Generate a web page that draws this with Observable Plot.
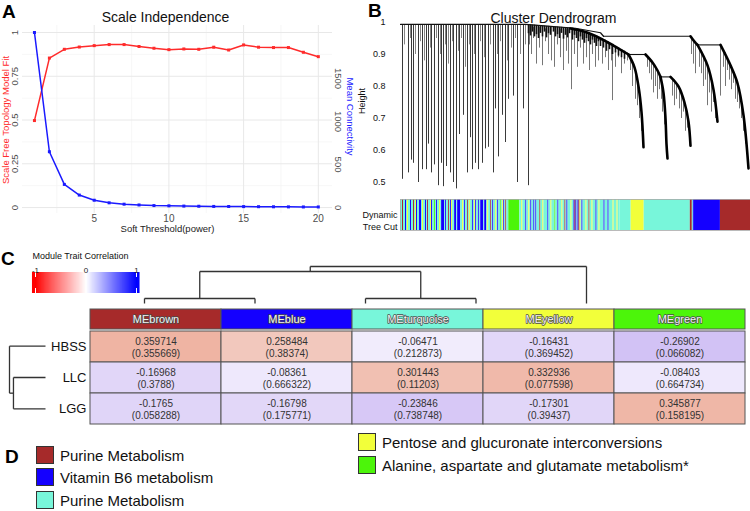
<!DOCTYPE html>
<html>
<head>
<meta charset="utf-8">
<script src="https://cdn.jsdelivr.net/npm/d3@7"></script>
<script src="https://cdn.jsdelivr.net/npm/@observablehq/plot@0.6"></script>
<style>
  body { margin: 0; background: #fff; }
  #fig { position: relative; width: 750px; height: 511px; overflow: hidden;
         font-family: "Liberation Sans", Arial, sans-serif; }
  #fig svg { position: absolute; overflow: visible; }
  .letter { position: absolute; font-weight: bold; font-size: 19px; line-height: 1; }
  .key { position: absolute; display: flex; align-items: center; font-size: 15px; color: #111; white-space: nowrap; }
  .key span.sw { display: inline-block; width: 18px; height: 18px; border: 1px solid #333; margin-right: 6px; box-sizing: border-box; }
</style>
</head>
<body>
<div id="fig"></div>
<script>
// ---------- Panel A: soft-threshold selection ----------
const powers   = [1,2,3,4,5,6,7,8,9,10,11,12,13,14,15,16,17,18,19,20];
const scaleFit = [0.497,0.854,0.904,0.917,0.925,0.931,0.931,0.920,0.910,0.902,0.906,0.904,0.916,0.900,0.929,0.916,0.914,0.914,0.887,0.862];
const meanConn = [2035,649,269,145,85,55,39,30,23,20,17,15,13,12,11,10,9,8,7,7];
const fitTicks  = [0,0.25,0.5,0.75,1];
const fitMinor  = [0.125,0.375,0.625,0.875];
const connTicks = [0,500,1000,1500];
const powerTicks = [5,10,15,20];
const powerMinor = [2.5,7.5,12.5,17.5];

// ---------- Panel B: cluster dendrogram ----------
const rootHeight = 0.993;
const heightTicks = [0.5,0.6,0.7,0.8,0.9,1];
// single branches hanging from the root (leaf position, lowest height)
const spikeX   = [2,8,11,13,18,22,26,28,31,34,38,41,43,46,50,53,56,59,63,67,70,72,75,78,82,85,88,93,95,98,102,105,108,113,117,123,128];
const spikeLow = [0.51,0.53,0.57,0.56,0.50,0.54,0.54,0.62,0.53,0.555,0.49,0.56,0.487,0.55,0.53,0.50,0.48,0.65,0.71,0.53,0.64,0.54,0.56,0.54,0.56,0.605,0.61,0.53,0.73,0.58,0.71,0.625,0.76,0.77,0.50,0.73,0.49];
// short side branches near the root: [position, top, bottom]
const twigs = [
  [4,0.993,0.93],[10,0.993,0.95],[15,0.993,0.90],[20,0.993,0.94],[24,0.993,0.88],[30,0.993,0.92],[36,0.993,0.95],
  [40,0.993,0.90],[45,0.993,0.93],[48,0.993,0.87],[52,0.993,0.94],[58,0.993,0.91],[61,0.993,0.95],[65,0.993,0.86],
  [69,0.993,0.93],[74,0.993,0.90],[80,0.993,0.94],[84,0.993,0.89],[90,0.993,0.93],[97,0.993,0.90],[100,0.993,0.94],
  [107,0.993,0.88],[111,0.993,0.92],[115,0.993,0.95],[120,0.993,0.90],[125,0.993,0.93]
];
// dense short branches under the root: [position, top, bottom]
const fringe = [
  [128,0.993,0.965],[130,0.993,0.958],[132,0.992,0.970],[134,0.992,0.955],[136,0.991,0.962],[138,0.990,0.950],
  [140,0.990,0.966],[142,0.989,0.955],[144,0.989,0.970],[146,0.988,0.952],[148,0.988,0.965],[150,0.987,0.960],
  [153,0.987,0.970],[155,0.986,0.955],[157,0.986,0.962],[159,0.985,0.950],[161,0.985,0.966],[163,0.984,0.948],
  [165,0.984,0.960],[167,0.983,0.952],[169,0.983,0.965],[172,0.982,0.945],[174,0.980,0.960],[176,0.978,0.950],
  [178,0.976,0.940],[180,0.975,0.955],[182,0.974,0.945],[184,0.972,0.935],[186,0.970,0.950],[188,0.968,0.940],
  [190,0.965,0.930],[192,0.962,0.945],[194,0.960,0.935],[196,0.957,0.925],[198,0.954,0.940],[200,0.950,0.925],
  [203,0.945,0.920],[206,0.940,0.910],[209,0.935,0.915],[212,0.930,0.900],[215,0.925,0.905],[218,0.920,0.895],
  [221,0.915,0.890],[224,0.910,0.885]
];
// fine branches: [position, top, bottom]
const hairs = [
  [129,0.99,0.93],[131,0.99,0.90],[133,0.985,0.95],[136,0.985,0.87],[139,0.985,0.92],[142,0.98,0.865],
  [145,0.98,0.94],[148,0.98,0.90],[151,0.985,0.88],[154,0.985,0.86],[157,0.98,0.93],[160,0.98,0.89],
  [163,0.98,0.85],[166,0.98,0.91],[168,0.98,0.87],[171,0.975,0.79],[174,0.975,0.90],[177,0.97,0.86],
  [180,0.97,0.92],[183,0.965,0.87],[186,0.96,0.89],[189,0.96,0.85],[192,0.955,0.90],[195,0.95,0.86],[198,0.95,0.88],
  [202,0.95,0.87],[205,0.945,0.89],[208,0.94,0.85],[211,0.93,0.88],[212,0.93,0.756],[215,0.925,0.86],
  [218,0.92,0.89],[221,0.915,0.84],[224,0.91,0.87],[227,0.905,0.88],
  [230,0.89,0.85],[232,0.87,0.80],[235,0.85,0.76],[237,0.82,0.74],[239,0.78,0.70],[241,0.74,0.66],
  [247,0.895,0.86],[249,0.885,0.84],[251,0.88,0.82],[253,0.87,0.78],[255,0.86,0.80],[257,0.85,0.76],[259,0.84,0.79],
  [261,0.82,0.76],[262,0.79,0.72],[264,0.75,0.68],[265,0.72,0.64],
  [272,0.825,0.77],[274,0.82,0.74],[276,0.81,0.76],[279,0.795,0.73],[281,0.78,0.70],[283,0.76,0.72],
  [285,0.74,0.66],[287,0.71,0.67],[289,0.67,0.63],
  [291,0.955,0.90],[293,0.945,0.87],[295,0.935,0.84],
  [299,0.92,0.86],[301,0.90,0.84],[303,0.89,0.80],[305,0.875,0.82],[307,0.86,0.74],[309,0.84,0.78],
  [311,0.82,0.72],[313,0.79,0.75],[315,0.75,0.70],[320,0.93,0.77],
  [323,0.915,0.86],[325,0.905,0.80],[327,0.89,0.85],[329,0.87,0.82],[331,0.86,0.79],[333,0.845,0.81],
  [335,0.83,0.76],[337,0.81,0.75],[339,0.78,0.73],[341,0.75,0.70],[343,0.71,0.66],[345,0.67,0.62],[347,0.60,0.56]
];
// root envelope and horizontal merges
const topLine = [[0,0.994],[125,0.994],[150,0.988],[175,0.982],[200,0.968],[203,0.957]];
const joins = [[203,290,0.957],[228,245,0.90],[260,270,0.83],[297,320,0.93]];
// heavy chained branches
const fans = [
  {id:"a", pts:[[170,0.981],[185,0.970],[200,0.950],[213,0.928],[228,0.900]]},
  {id:"b", pts:[[228,0.900],[234,0.86],[238,0.80],[241,0.72],[243,0.61]]},
  {id:"c", pts:[[245,0.900],[252,0.875],[257,0.85],[260,0.83]]},
  {id:"d", pts:[[260,0.83],[263,0.78],[265,0.70],[266,0.62],[267,0.575]]},
  {id:"e", pts:[[270,0.83],[278,0.80],[284,0.75],[288,0.69],[290,0.615]]},
  {id:"f", pts:[[290,0.957],[294,0.94],[297,0.93]]},
  {id:"g", pts:[[297,0.93],[307,0.866],[313,0.79],[317,0.69]]},
  {id:"h", pts:[[320,0.93],[330,0.866],[337,0.81],[343,0.71],[348,0.544]]}
];
// module colour of each leaf, as runs: code + width
const moduleColor = {T:"#78f6da", B:"#1400ff", R:"#a62a2a", Y:"#f2ff3a", G:"#4cf50a"};
const treeCut =
  "T2 R1 T2 B1 T1 Y1 T2 B1 T2 R1 T1 Y1 B1 T2 B2 T1 Y1 T2 B1 T1 R1 T2 Y1 B1 T2 G1 T1 B1 T2 Y1 T1 B3 T1 B1 T2 R1 T1 B1 Y1 T2 " +
  "B2 T1 B3 T2 Y1 T1 B1 T2 R1 T1 Y1 T2 B1 T1 Y1 B1 T2 B1 T1 B3 T1 B2 T1 Y1 T2 R1 T1 B1 T2 Y1 T1 B1 T2 G1 T1 Y1 B1 T1 R1 T2 " +
  "G11 " +
  "T2 Y1 T3 B1 T2 Y1 T1 B1 T2 B1 T1 B1 T3 R1 T2 Y1 T4 B1 T2 Y1 T3 G1 T2 B1 T3 Y1 T2 R1 T1 B1 T3 Y1 T2 B1 " +
  "R1 B1 T1 B1 R1 Y1 T1 B1 T3 Y1 T2 R1 T2 Y1 T3 B1 T2 Y1 T4 B1 T3 B1 T4 Y1 T3 Y1 T2 " +
  "T11 Y13 T46 R2 T1 B1 B26 R30";

// ---------- Panel C: module–trait relationships ----------
const modules = ["MEbrown","MEblue","MEturquoise","MEyellow","MEgreen"];
const moduleFill = ["#a62a2a","#1400ff","#78f6da","#f2ff3a","#4cf50a"];
const traits = ["HBSS","LLC","LGG"];
const corrHBSS = [0.359714,0.258484,-0.06471,-0.16431,-0.26902];
const pHBSS    = [0.355669,0.38374,0.212873,0.369452,0.066082];
const corrLLC  = [-0.16968,-0.08361,0.301443,0.332936,-0.08403];
const pLLC     = [0.3788,0.666322,0.11203,0.077598,0.664734];
const corrLGG  = [-0.1765,-0.16798,-0.23846,-0.17301,0.345877];
const pLGG     = [0.058288,0.175771,0.738748,0.39437,0.158195];
// hierarchical clustering of modules and traits (negative = leaf)
const moduleMerge = [[-1,-2],[-3,-4],[1,2],[3,-5]];
const moduleMergeHeight = [0.135,0.135,0.865,1];
const traitMerge = [[-2,-3],[-1,1]];
const traitMergeHeight = [0.89,1];
const legendTicks = [-1,0,1];

// ---------- Panel D: pathway of each module ----------
const pathwayColor = ["#a62a2a","#1400ff","#78f6da","#f2ff3a","#4cf50a"];
const pathwayName  = ["Purine Metabolism","Vitamin B6 metabolism","Purine Metabolism",
                      "Pentose and glucuronate interconversions","Alanine, aspartate and glutamate metabolism*"];

// =====================================================================
const fig = document.getElementById("fig");
const FONT = "Liberation Sans, Arial, sans-serif";
function place(el, left, top) {
  el.style.left = left + "px"; el.style.top = top + "px";
  fig.appendChild(el); return el;
}
function dendroSegments(merge, heights, leafPos) {
  const nx = [], nh = [], segs = [];
  merge.forEach(([a, b], i) => {
    const get = k => k < 0 ? [leafPos[-k - 1], 0] : [nx[k - 1], nh[k - 1]];
    const [xa, ha] = get(a), [xb, hb] = get(b), h = heights[i];
    segs.push({p1: xa, h1: ha, p2: xa, h2: h}, {p1: xa, h1: h, p2: xb, h2: h}, {p1: xb, h1: hb, p2: xb, h2: h});
    nx[i] = (xa + xb) / 2; nh[i] = h;
  });
  return segs;
}
const baseStyle = {background: "transparent", fontFamily: FONT, overflow: "visible"};
const fmtNum = d => String(d);

// ---- A ----
const red = "#ff2b2b", blue = "#1a1aff";
const connTop = meanConn[0];
const rowsA = powers.map((p, i) => ({power: p, fit: scaleFit[i], conn: meanConn[i]}));
const plotA = Plot.plot({
  width: 370, height: 240, marginLeft: 22, marginRight: 38, marginTop: 25, marginBottom: 27,
  x: {domain: [0.2, 20.95], axis: null},
  y: {domain: [-0.034, 1.04], axis: null},
  style: baseStyle,
  marks: [
    Plot.ruleX(powerMinor, {stroke: "#f3f3f3", strokeWidth: 0.7}),
    Plot.ruleY(fitMinor, {stroke: "#f3f3f3", strokeWidth: 0.7}),
    Plot.ruleX(powerTicks, {stroke: "#e8e8e8", strokeWidth: 1}),
    Plot.ruleY(fitTicks, {stroke: "#e8e8e8", strokeWidth: 1}),
    Plot.line(rowsA, {x: "power", y: "fit", stroke: red, strokeWidth: 1.5}),
    Plot.dot(rowsA, {x: "power", y: "fit", fill: red, symbol: "square", r: 1.7}),
    Plot.line(rowsA, {x: "power", y: d => d.conn / connTop, stroke: blue, strokeWidth: 1.5}),
    Plot.dot(rowsA, {x: "power", y: d => d.conn / connTop, fill: blue, symbol: "square", r: 1.7}),
    Plot.text(fitTicks, {y: d => d, text: fmtNum, frameAnchor: "left", dx: -8, rotate: -90, textAnchor: "middle", fontSize: 9.5, fill: "#4d4d4d"}),
    Plot.text(connTicks, {y: d => d / connTop, text: fmtNum, frameAnchor: "right", dx: 6, rotate: 90, textAnchor: "middle", fontSize: 9.5, fill: "#4d4d4d"}),
    Plot.text(powerTicks, {x: d => d, text: fmtNum, frameAnchor: "bottom", lineAnchor: "top", dy: 1, fontSize: 10, fill: "#4d4d4d"}),
    Plot.text(["Soft Threshold(power)"], {frameAnchor: "bottom", lineAnchor: "top", dy: 12, dx: -10, fontSize: 9.5, fill: "#222"}),
    Plot.text(["Scale Free Topology Model Fit"], {y: () => 0.5, frameAnchor: "left", dx: -17, rotate: -90, textAnchor: "middle", fontSize: 9.5, fill: red}),
    Plot.text(["Mean Connectivity"], {y: () => 0.52, frameAnchor: "right", dx: 18, rotate: 90, textAnchor: "middle", fontSize: 9.5, fill: blue}),
    Plot.text(["Scale Independence"], {frameAnchor: "top", dy: -13, dx: -12, fontSize: 14, fill: "#111"})
  ]
});
place(plotA, 0, 0);

// ---- B ----
const spikes = spikeX.map((x, i) => ({x, low: spikeLow[i]}));
const toRows = list => list.map(([x, top, low]) => ({x, top, low}));
const joinRows = joins.map(([x1, x2, h]) => ({x1, x2, h}));
const fanRows = fans.flatMap(f => f.pts.map(([x, h]) => ({id: f.id, x, h})));
const plotB = Plot.plot({
  width: 400, height: 195, marginLeft: 50, marginRight: 0, marginTop: 22, marginBottom: 13,
  x: {domain: [0, 350], axis: null},
  y: {domain: [0.5, 1], axis: null},
  style: baseStyle,
  marks: [
    Plot.ruleX(toRows(twigs), {x: "x", y1: "top", y2: "low", stroke: "#777", strokeWidth: 0.9}),
    Plot.ruleX(spikes, {x: "x", y1: rootHeight, y2: "low", stroke: "#3a3a3a", strokeWidth: 1}),
    Plot.ruleX(toRows(hairs), {x: "x", y1: "top", y2: "low", stroke: "#666", strokeWidth: 0.9}),
    Plot.ruleX(toRows(fringe), {x: "x", y1: "top", y2: "low", stroke: "#111", strokeWidth: 1.6}),
    Plot.line(topLine, {x: d => d[0], y: d => d[1], stroke: "#111", strokeWidth: 1.2}),
    Plot.ruleY(joinRows, {x1: "x1", x2: "x2", y: "h", stroke: "#111", strokeWidth: 1.1}),
    Plot.line(fanRows, {x: "x", y: "h", z: "id", stroke: "#000", strokeWidth: 2.6, curve: "catmull-rom"}),
    Plot.text(heightTicks, {y: d => d, text: fmtNum, frameAnchor: "left", dx: -15, textAnchor: "end", fontSize: 9, fill: "#111"}),
    Plot.text(["Height"], {y: () => 0.755, frameAnchor: "left", dx: -38, rotate: -90, textAnchor: "middle", fontSize: 9, fill: "#111"}),
    Plot.text(["Cluster Dendrogram"], {frameAnchor: "top", dy: -9, dx: -22, fontSize: 14, fill: "#111"})
  ]
});
place(plotB, 350, 0);

// colour strip under the dendrogram
let cursor = 0;
const runs = treeCut.trim().split(/\s+/).map(tok => {
  const n = +tok.slice(1), r = {start: cursor, end: cursor + n, code: tok[0]};
  cursor += n; return r;
});
const plotCut = Plot.plot({
  width: 400, height: 40, marginLeft: 50, marginRight: 0, marginTop: 4, marginBottom: 5,
  x: {domain: [0, cursor], axis: null},
  color: {type: "identity"},
  style: baseStyle,
  marks: [
    Plot.rect(runs, {x1: "start", x2: "end", fill: d => moduleColor[d.code]}),
    Plot.frame({stroke: "#aaa", strokeWidth: 0.8}),
    Plot.text(["Dynamic\nTree Cut"], {frameAnchor: "left", dx: -3, dy: 5, textAnchor: "end", lineHeight: 1.4, fontSize: 9, fill: "#111"})
  ]
});
place(plotCut, 350, 195);

// ---- C ----
// colour key
const legendStops = d3.range(-1.06, 1.06, 0.02);
const plotKey = Plot.plot({
  width: 160, height: 45, marginLeft: 35, marginRight: 24, marginTop: 17, marginBottom: 7,
  x: {domain: [-1, 1], range: [35, 136], axis: null},
  color: {type: "linear", domain: [-1, 0, 1], range: ["#ff0000", "#ffffff", "#0000ff"], clamp: true},
  style: baseStyle,
  marks: [
    Plot.rect(legendStops, {x1: d => d, x2: d => d + 0.03, fill: d => d}),
    Plot.ruleX([-1, 1], {stroke: "#fff", strokeWidth: 1, insetBottom: 16}),
    Plot.ruleX([-1, 1], {stroke: "#fff", strokeWidth: 1, insetTop: 16}),
    Plot.text(legendTicks, {x: d => d, text: fmtNum, frameAnchor: "top", dy: -5, fontSize: 8, fill: "#222"}),
    Plot.text(["Module Trait Correlation"], {x: () => -1.06, frameAnchor: "top", dy: -20, textAnchor: "start", fontSize: 9, fill: "#111"})
  ]
});
place(plotKey, 0, 255);

// module dendrogram above the table
const modSegs = dendroSegments(moduleMerge, moduleMergeHeight, [0, 1, 2, 3, 4]);
const plotModTree = Plot.plot({
  width: 750, height: 50, marginLeft: 0, marginRight: 0, marginTop: 0, marginBottom: 0,
  x: {domain: [0, 4], range: [144, 586], axis: null},
  y: {domain: [0, 1], range: [43, 6], axis: null},
  style: baseStyle,
  marks: [Plot.link(modSegs, {x1: "p1", y1: "h1", x2: "p2", y2: "h2", stroke: "#333", strokeWidth: 1.3})]
});
place(plotModTree, 0, 260);

// header row
const plotHead = Plot.plot({
  width: 750, height: 21, marginLeft: 90, marginRight: 5, marginTop: 0, marginBottom: 1,
  x: {type: "band", domain: modules, range: [90, 745], padding: 0, axis: null},
  color: {type: "identity"},
  style: baseStyle,
  marks: [
    Plot.cell(modules, {x: d => d, fill: (d, i) => moduleFill[i], stroke: "#555", strokeWidth: 1}),
    Plot.text(modules, {x: d => d, fill: "#f4f4f4", stroke: "#4a4a4a", strokeWidth: 1.4, strokeLinejoin: "round", paintOrder: "stroke", fontSize: 11})
  ]
});
place(plotHead, 0, 309);

// correlation cells
const cells = [];
[[corrHBSS, pHBSS], [corrLLC, pLLC], [corrLGG, pLGG]].forEach(([cs, ps], r) =>
  cs.forEach((c, j) => cells.push({trait: traits[r], module: modules[j], corr: c, p: ps[j]})));
const plotCells = Plot.plot({
  width: 750, height: 95, marginLeft: 90, marginRight: 5, marginTop: 0, marginBottom: 1,
  x: {type: "band", domain: modules, range: [90, 745], padding: 0, axis: null},
  y: {type: "band", domain: traits, range: [0, 94], padding: 0, axis: null},
  color: {type: "linear", domain: [-1, 0, 1], range: ["#6428d8", "#fbfaff", "#d93800"]},
  style: baseStyle,
  marks: [
    Plot.cell(cells, {x: "module", y: "trait", fill: "corr", stroke: "#555", strokeWidth: 1}),
    Plot.text(cells, {x: "module", y: "trait", text: d => `${d.corr}\n(${d.p})`, lineHeight: 1.2, fontSize: 10, fill: "#333"}),
    Plot.text(traits, {y: d => d, frameAnchor: "left", dx: -4, textAnchor: "end", fontSize: 13, fill: "#111"})
  ]
});
place(plotCells, 0, 330);

// trait dendrogram on the left
const traitSegs = dendroSegments(traitMerge, traitMergeHeight, [0, 1, 2]);
const plotTraitTree = Plot.plot({
  width: 60, height: 95, marginLeft: 0, marginRight: 0, marginTop: 0, marginBottom: 0,
  x: {domain: [0, 1], range: [45, 9], axis: null},
  y: {domain: [-0.5, 2.5], range: [0, 94], axis: null},
  style: baseStyle,
  marks: [Plot.link(traitSegs, {x1: "h1", y1: "p1", x2: "h2", y2: "p2", stroke: "#333", strokeWidth: 1.3})]
});
place(plotTraitTree, 0, 330);

// ---- D: pathway key ----
const keyPos = [[36, 446], [36, 468], [36, 491], [358, 433], [358, 456]];
pathwayName.forEach((name, i) => {
  const div = document.createElement("div");
  div.className = "key";
  div.innerHTML = `<span class="sw" style="background:${pathwayColor[i]}"></span>`;
  div.appendChild(document.createTextNode(name));
  place(div, keyPos[i][0], keyPos[i][1]);
});

// panel letters
[["A", 2, 2], ["B", 368, 1], ["C", 1, 249], ["D", 5, 447]].forEach(([t, x, y]) => {
  const d = document.createElement("div");
  d.className = "letter"; d.textContent = t; place(d, x, y);
});
</script>
</body>
</html>
